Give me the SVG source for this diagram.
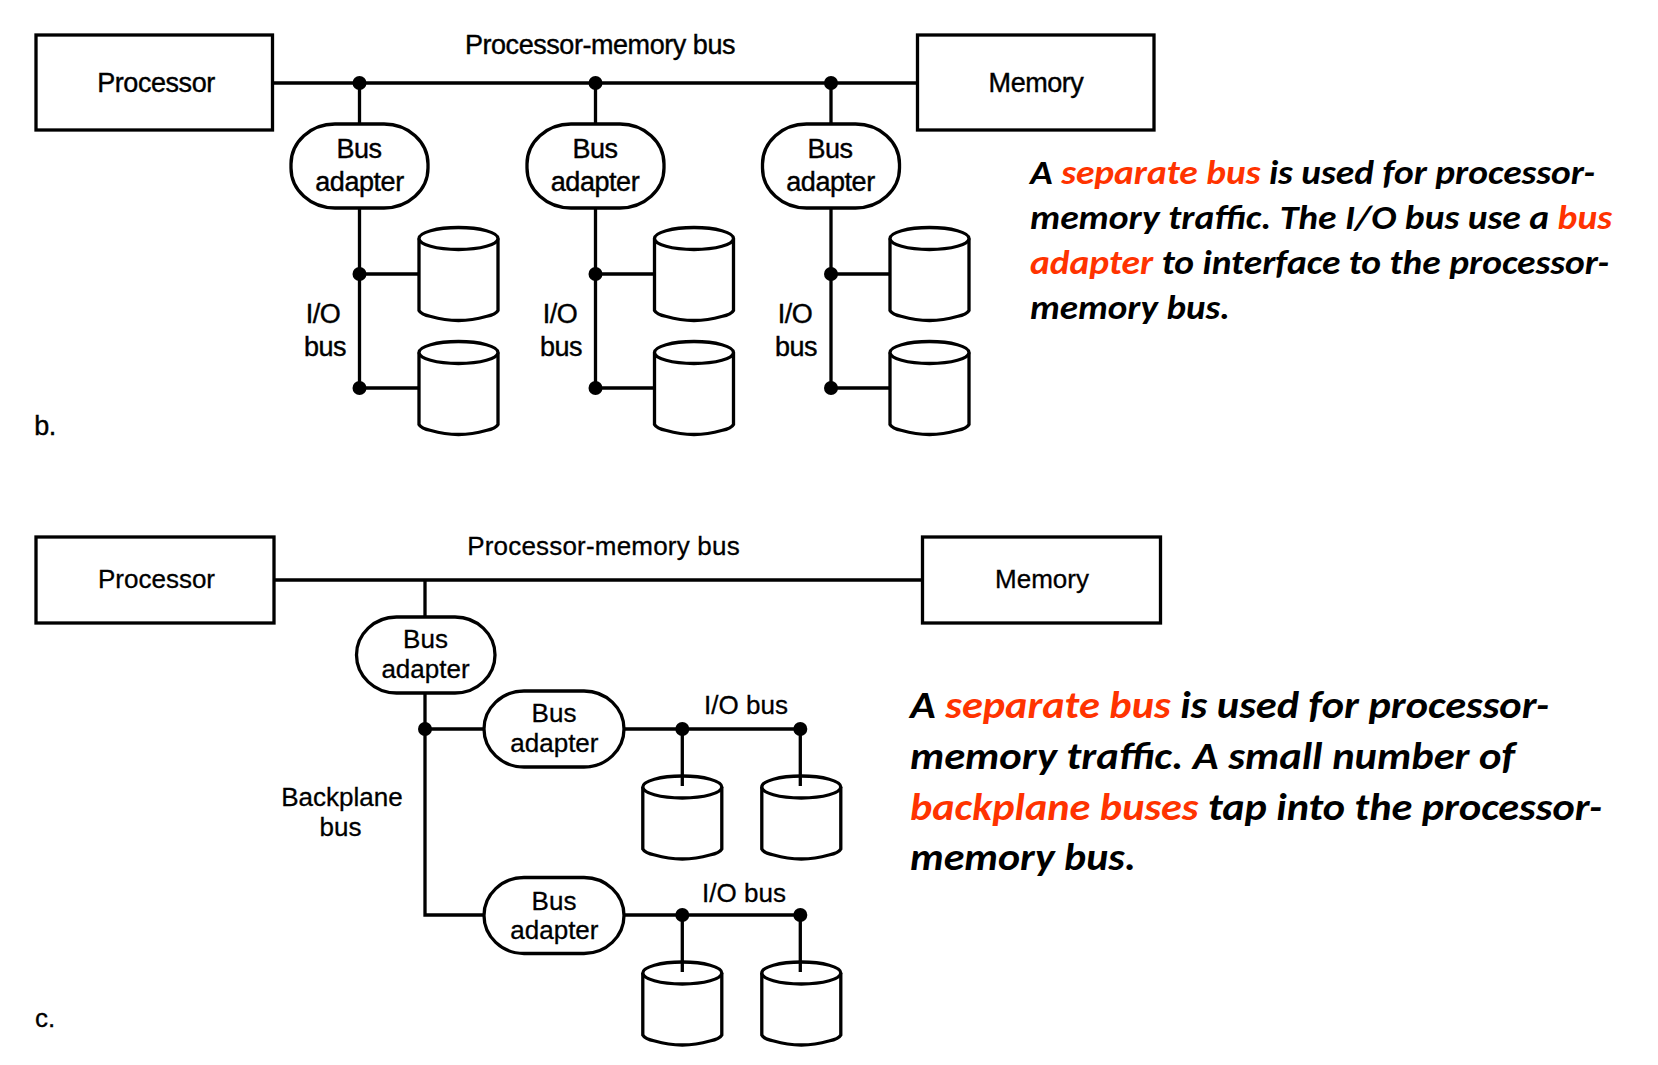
<svg xmlns="http://www.w3.org/2000/svg" width="1658" height="1065" viewBox="0 0 1658 1065">
<style>
.bx{fill:#fff;stroke:#000;stroke-width:3.300}
.ln{fill:none;stroke:#000;stroke-width:3.300}
.dot{fill:#000}
text{font-family:"Liberation Sans",Arial,sans-serif;fill:#000;text-anchor:middle}
.t1{font-size:27px;letter-spacing:-.45px;stroke:#000;stroke-width:.4px}
.t2{font-size:26px;stroke:#000;stroke-width:.3px}
.s{font-family:Carlito,Lato,sans-serif;font-weight:700;font-style:italic;text-anchor:start;stroke:none}
.s1{font-size:35px}
.s2{font-size:39px}
.r{fill:#ff3300}
</style>
<defs>
<g id="cylb"><path class="bx" d="M0,12V84Q2,88 12,90Q39.500,98 67,90Q77,88 79,84V12"/><ellipse class="bx" cx="39.500" cy="12" rx="39.500" ry="11"/></g>
<g id="cylc"><path class="bx" d="M0,12V74Q2,78 12,80Q39.500,88 67,80Q77,78 79,74V12"/><ellipse class="bx" cx="39.500" cy="12" rx="39.500" ry="11"/></g>
</defs>
<g id="connectors">
<path class="ln" d="M272.500,83H917M359.500,83V124M595.500,83V124M831,83V124"/>
<path class="ln" d="M359.500,208V388H419M359.500,274H419M595.500,208V388H655M595.500,274H655M831,208V388H890M831,274H890"/>
<path class="ln" d="M274,580H922M425,580V617M425,693V915H484M425,729H484"/>
<path class="ln" d="M624,729H800.300M624,915H800.300"/>
<circle class="dot" cx="359.500" cy="83" r="7"/><circle class="dot" cx="595.500" cy="83" r="7"/><circle class="dot" cx="831" cy="83" r="7"/>
<circle class="dot" cx="359.500" cy="274" r="7"/><circle class="dot" cx="359.500" cy="388" r="7"/>
<circle class="dot" cx="595.500" cy="274" r="7"/><circle class="dot" cx="595.500" cy="388" r="7"/>
<circle class="dot" cx="831" cy="274" r="7"/><circle class="dot" cx="831" cy="388" r="7"/>
<circle class="dot" cx="425" cy="729" r="7"/>
<circle class="dot" cx="682.300" cy="729" r="7"/><circle class="dot" cx="800.300" cy="729" r="7"/>
<circle class="dot" cx="682.300" cy="915" r="7"/><circle class="dot" cx="800.300" cy="915" r="7"/>
</g>
<g id="b-processor"><rect class="bx" x="36" y="35" width="236.500" height="95"/><text class="t1" x="156" y="92">Processor</text></g>
<g id="b-memory"><rect class="bx" x="917.500" y="35" width="236.500" height="95"/><text class="t1" x="1036" y="92">Memory</text></g>
<text id="b-bus-label" class="t1" x="600" y="54">Processor-memory bus</text>
<g id="b-adapter1"><rect class="bx" x="291" y="124" width="137" height="84" rx="44" ry="40"/><text class="t1" x="359" y="158">Bus</text><text class="t1" x="359.500" y="191">adapter</text></g>
<g id="b-adapter2"><rect class="bx" x="527" y="124" width="137" height="84" rx="44" ry="40"/><text class="t1" x="595" y="158">Bus</text><text class="t1" x="595" y="191">adapter</text></g>
<g id="b-adapter3"><rect class="bx" x="762.500" y="124" width="137" height="84" rx="44" ry="40"/><text class="t1" x="830" y="158">Bus</text><text class="t1" x="830.500" y="191">adapter</text></g>
<g id="b-disk1"><use href="#cylb" x="419" y="226.500"/></g>
<g id="b-disk2"><use href="#cylb" x="419" y="340.500"/></g>
<g id="b-disk3"><use href="#cylb" x="654.500" y="226.500"/></g>
<g id="b-disk4"><use href="#cylb" x="654.500" y="340.500"/></g>
<g id="b-disk5"><use href="#cylb" x="890" y="226.500"/></g>
<g id="b-disk6"><use href="#cylb" x="890" y="340.500"/></g>
<g id="b-io1"><text class="t1" x="323" y="323">I/O</text><text class="t1" x="325" y="356">bus</text></g>
<g id="b-io2"><text class="t1" x="560" y="323">I/O</text><text class="t1" x="561" y="356">bus</text></g>
<g id="b-io3"><text class="t1" x="795" y="323">I/O</text><text class="t1" x="796" y="356">bus</text></g>
<text id="b-tag" class="t1" x="45" y="435">b.</text>
<g id="b-note">
<text class="s s1" x="1030" y="184" textLength="565" lengthAdjust="spacingAndGlyphs">A <tspan class="r">separate bus</tspan> is used for processor-</text>
<text class="s s1" x="1030" y="229" textLength="582" lengthAdjust="spacingAndGlyphs">memory traffic. The I/O bus use a <tspan class="r">bus</tspan></text>
<text class="s s1" x="1030" y="274" textLength="579" lengthAdjust="spacingAndGlyphs"><tspan class="r">adapter</tspan> to interface to the processor-</text>
<text class="s s1" x="1030" y="319" textLength="200" lengthAdjust="spacingAndGlyphs">memory bus.</text>
</g>
<g id="c-processor"><rect class="bx" x="36" y="537" width="238" height="86"/><text class="t2" x="156.500" y="588">Processor</text></g>
<g id="c-memory"><rect class="bx" x="922.500" y="537" width="238" height="86"/><text class="t2" x="1042" y="588">Memory</text></g>
<text id="c-bus-label" class="t2" x="603.500" y="555" letter-spacing=".2">Processor-memory bus</text>
<g id="c-adapter0"><rect class="bx" x="356.500" y="617" width="138.500" height="76" rx="40" ry="38"/><text class="t2" x="425.500" y="648">Bus</text><text class="t2" x="425.500" y="678">adapter</text></g>
<g id="c-adapter1"><rect class="bx" x="484" y="691" width="140" height="76" rx="40" ry="38"/><text class="t2" x="554" y="722">Bus</text><text class="t2" x="554.400" y="752">adapter</text></g>
<g id="c-adapter2"><rect class="bx" x="484" y="877.500" width="140" height="76" rx="40" ry="38"/><text class="t2" x="554" y="910">Bus</text><text class="t2" x="554.400" y="939">adapter</text></g>
<g id="c-disk1"><use href="#cylc" x="642.800" y="775"/></g>
<g id="c-disk2"><use href="#cylc" x="761.800" y="775"/></g>
<g id="c-disk3"><use href="#cylc" x="642.800" y="961"/></g>
<g id="c-disk4"><use href="#cylc" x="761.800" y="961"/></g>
<path class="ln" d="M682.300,729V786M800.300,729V786M682.300,915V972M800.300,915V972"/>
<text id="c-io1" class="t2" x="746" y="713.500">I/O bus</text>
<text id="c-io2" class="t2" x="744" y="902">I/O bus</text>
<g id="c-backplane"><text class="t2" x="342" y="806">Backplane</text><text class="t2" x="340.500" y="836">bus</text></g>
<text id="c-tag" class="t2" x="45" y="1027">c.</text>
<g id="c-note">
<text class="s s2" x="910" y="718" textLength="639" lengthAdjust="spacingAndGlyphs">A <tspan class="r">separate bus</tspan> is used for processor-</text>
<text class="s s2" x="910" y="769" textLength="605" lengthAdjust="spacingAndGlyphs">memory traffic. A small number of</text>
<text class="s s2" x="910" y="820" textLength="692" lengthAdjust="spacingAndGlyphs"><tspan class="r">backplane buses</tspan> tap into the processor-</text>
<text class="s s2" x="910" y="870" textLength="226" lengthAdjust="spacingAndGlyphs">memory bus.</text>
</g>
</svg>
